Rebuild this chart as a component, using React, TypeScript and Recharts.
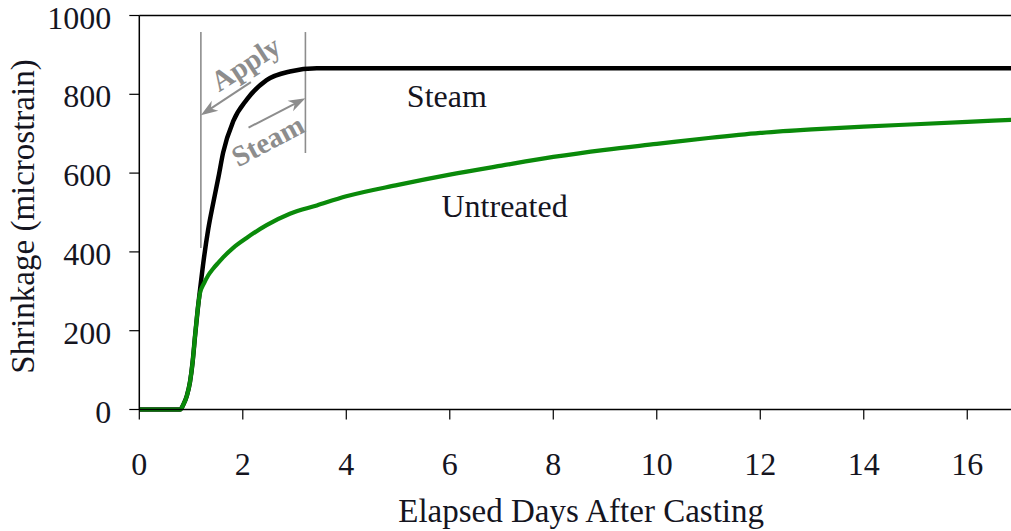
import React from "react";
import {
  LineChart,
  Line,
  XAxis,
  YAxis,
  ReferenceLine,
  ReferenceDot,
  Label,
} from "recharts";

// Elapsed days after casting (sample positions shared by both series)
const DAYS = [
  0, 0.5, 0.79, 0.85, 0.92, 0.98, 1.03, 1.08, 1.13, 1.17, 1.25, 1.33, 1.43,
  1.53, 1.62, 1.82, 2.08, 2.46, 2.91, 3.43, 4, 5, 6, 7, 8, 9, 10, 11, 12, 13,
  14, 15, 16, 17,
];

// Shrinkage (microstrain), steam-cured specimen
const STEAM = [
  0, 0, 0, 12, 35, 70, 120, 190, 255, 300, 385, 456, 525, 590, 652, 733, 787,
  836, 858, 866, 866, 866, 866, 866, 866, 866, 866, 866, 866, 866, 866, 866,
  866, 866,
];

// Shrinkage (microstrain), untreated specimen
const UNTREATED = [
  0, 0, 0, 12, 35, 70, 120, 190, 255, 294, 320, 340, 358, 373, 386, 411, 436,
  468, 497, 518, 541, 570, 596, 619, 641, 659, 674, 689, 702, 711, 718, 724,
  730, 736,
];

const X_TICKS = [0, 2, 4, 6, 8, 10, 12, 14, 16];
const Y_TICKS = [0, 200, 400, 600, 800, 1000];

// Steam application window (days) and the heights of its marker lines
const APPLY_START = 1.19;
const APPLY_END = 3.21;
const MARKER_TOP = 958;
const MARKER_START_BOTTOM = 410;
const MARKER_END_BOTTOM = 651;

const data = DAYS.map((day, i) => ({
  day,
  steam: STEAM[i],
  untreated: UNTREATED[i],
}));

const FONT = '"Liberation Serif", "Times New Roman", "DejaVu Serif", serif';
const TEXT_COLOR = "#15151f";
const GRAY = "#8d8d8d";

const serif = (size: number, weight: string = "normal") => ({
  fontFamily: FONT,
  fontSize: size,
  fontWeight: weight as any,
});

const YTick = (props: any) => {
  const { x, y, payload } = props;
  return (
    <text x={x} y={y} dy={13} textAnchor="end" fill={TEXT_COLOR} style={serif(32)}>
      {payload.value}
    </text>
  );
};

const XTick = (props: any) => {
  const { x, y, payload } = props;
  return (
    <text x={x} y={y} dy={47.5} textAnchor="middle" fill={TEXT_COLOR} style={serif(32)}>
      {payload.value}
    </text>
  );
};

// Arrow whose tip sits on the reference point, pointing along `angle`
const arrowShape = (angle: number, length: number) => (props: any) => {
  const { cx, cy } = props;
  return (
    <g transform={`translate(${cx},${cy}) rotate(${angle})`}>
      <line x1={-length} y1={0} x2={-10} y2={0} stroke={GRAY} strokeWidth={2} />
      <polygon points="0,0 -17,-6 -12,0 -17,6" fill={GRAY} />
    </g>
  );
};

// Rotated caption centred on the reference point
const captionShape =
  (text: string, angle: number, color: string, size: number, weight: string) =>
  (props: any) => {
    const { cx, cy } = props;
    return (
      <text
        transform={`translate(${cx},${cy}) rotate(${angle})`}
        textAnchor="middle"
        dominantBaseline="central"
        fill={color}
        style={serif(size, weight)}
      >
        {text}
      </text>
    );
  };

// Left-aligned series name; the point marks the start of its baseline
const seriesName = (text: string) => (props: any) => {
  const { cx, cy } = props;
  return (
    <text x={cx} y={cy} textAnchor="start" fill={TEXT_COLOR} style={serif(32)}>
      {text}
    </text>
  );
};

const YTitle = (props: any) => {
  const { viewBox } = props;
  const cx = 34;
  const cy = viewBox.y + viewBox.height / 2 + 4;
  return (
    <text
      transform={`translate(${cx},${cy}) rotate(-90)`}
      textAnchor="middle"
      fill={TEXT_COLOR}
      style={serif(33)}
    >
      Shrinkage (microstrain)
    </text>
  );
};

const XTitle = (props: any) => {
  const { viewBox } = props;
  return (
    <text
      x={viewBox.x + viewBox.width / 2 + 2}
      y={viewBox.y + viewBox.height - 9}
      textAnchor="middle"
      fill={TEXT_COLOR}
      style={serif(33)}
    >
      Elapsed Days After Casting
    </text>
  );
};

export default function App() {
  return (
    <div
      style={{
        position: "fixed",
        left: 0,
        top: 0,
        width: 1011,
        height: 531,
        overflow: "hidden",
        background: "#ffffff",
      }}
    >
      <LineChart
        width={1030}
        height={531}
        data={data}
        margin={{ top: 15.5, right: 11, bottom: 0, left: 0 }}
      >
        <XAxis
          dataKey="day"
          type="number"
          domain={[0, 17]}
          ticks={X_TICKS}
          allowDataOverflow
          height={121.5}
          stroke="#000"
          strokeWidth={1.5}
          tickSize={10}
          tickMargin={8}
          tick={<XTick />}
          tickLine={{ stroke: "#000", strokeWidth: 1.2 }}
        >
          <Label content={<XTitle />} />
        </XAxis>
        <YAxis
          type="number"
          domain={[0, 1000]}
          ticks={Y_TICKS}
          width={139.3}
          stroke="#000"
          strokeWidth={1.5}
          tickSize={10}
          tickMargin={18}
          tick={<YTick />}
          tickLine={{ stroke: "#000", strokeWidth: 1.2 }}
        >
          <Label content={<YTitle />} />
        </YAxis>

        {/* top frame line */}
        <ReferenceLine y={1000} stroke="#000" strokeWidth={1.5} />

        {/* steam application window */}
        <ReferenceLine
          segment={[
            { x: APPLY_START, y: MARKER_START_BOTTOM },
            { x: APPLY_START, y: MARKER_TOP },
          ]}
          stroke={GRAY}
          strokeWidth={1.6}
        />
        <ReferenceLine
          segment={[
            { x: APPLY_END, y: MARKER_END_BOTTOM },
            { x: APPLY_END, y: MARKER_TOP },
          ]}
          stroke={GRAY}
          strokeWidth={1.6}
        />

        <Line
          type="monotone"
          dataKey="steam"
          stroke="#000000"
          strokeWidth={4.5}
          dot={false}
          isAnimationActive={false}
        />
        <Line
          type="monotone"
          dataKey="untreated"
          stroke="#0a8a0a"
          strokeWidth={4.2}
          dot={false}
          isAnimationActive={false}
        />

        <ReferenceDot x={APPLY_START} y={747} r={0} shape={arrowShape(146.5, 60)} />
        <ReferenceDot x={APPLY_END} y={790} r={0} shape={arrowShape(-27.3, 64)} />
        <ReferenceDot
          x={2.05}
          y={878}
          r={0}
          shape={captionShape("Apply", -33, GRAY, 29, "bold")}
        />
        <ReferenceDot
          x={2.48}
          y={683}
          r={0}
          shape={captionShape("Steam", -28, GRAY, 29, "bold")}
        />
        <ReferenceDot x={5.17} y={768} r={0} shape={seriesName("Steam")} />
        <ReferenceDot x={5.84} y={489} r={0} shape={seriesName("Untreated")} />
      </LineChart>
    </div>
  );
}
